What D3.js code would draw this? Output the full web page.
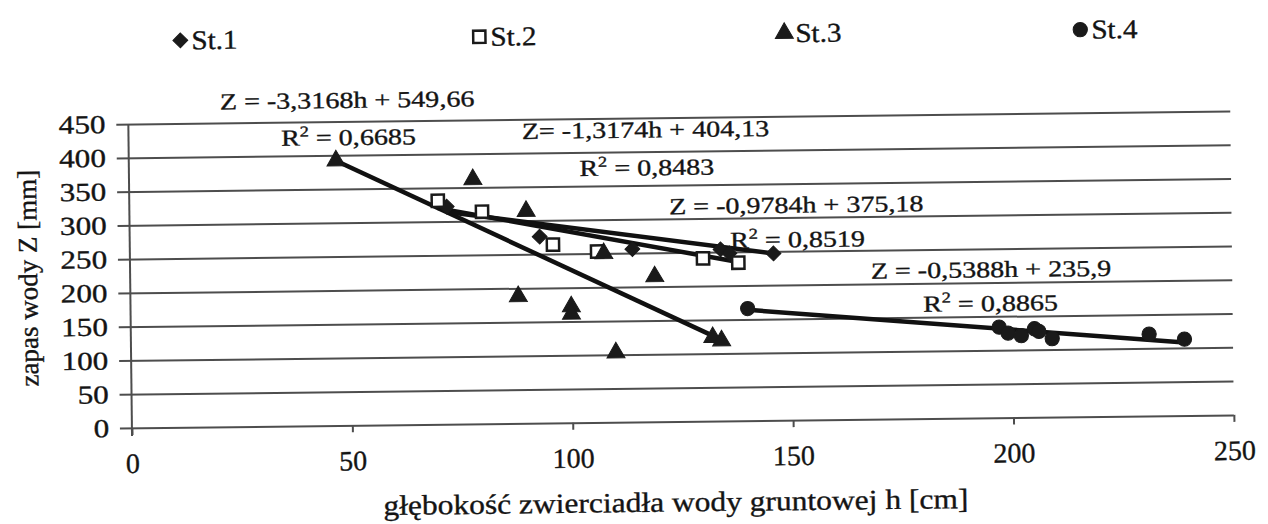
<!DOCTYPE html>
<html>
<head>
<meta charset="utf-8">
<script src="https://cdnjs.cloudflare.com/ajax/libs/d3/7.8.5/d3.min.js"></script>
<style>
  body { margin: 0; background: #fff; }
  svg { display: block; }
</style>
</head>
<body>
<svg id="chart" width="1268" height="524"></svg>
<script>

// data: [h cm, Z mm]
var seriesNames = [ 'St.1', 'St.2', 'St.3', 'St.4' ];

var st1 = [ [ 72, 322 ], [ 93, 276 ], [ 114, 256 ], [ 134, 254 ], [ 136, 248 ], [ 146, 247 ] ];
var st2 = [ [ 70, 331 ], [ 80, 314 ], [ 96, 264 ], [ 106, 253 ], [ 130, 241 ], [ 138, 234 ] ];
var st3 = [ [ 47, 392 ], [ 78, 362 ], [ 88, 188 ], [ 90, 314 ], [ 100, 172 ], [ 100, 161 ],
  [ 107.5, 250 ], [ 110, 103 ], [ 119, 215 ], [ 132, 124 ], [ 134, 119 ] ];
var st4 = [ [ 140, 166 ], [ 197, 134 ], [ 199, 125 ], [ 202, 121 ], [ 205, 131 ], [ 206, 127 ],
  [ 209, 116 ], [ 231, 121 ], [ 239, 113 ] ];

// trend lines as drawn (start / end)
var trend1 = [ [ 72, 314 ], [ 146, 247 ] ];
var trend2 = [ [ 70, 320 ], [ 138, 235 ] ];
var trend3 = [ [ 47, 392 ], [ 134, 120 ] ];
var trend4 = [ [ 140, 164 ], [ 239, 108 ] ];

var equations = [ 'Z = -3,3168h + 549,66', 'Z= -1,3174h + 404,13', 'Z = -0,9784h + 375,18', 'Z = -0,5388h + 235,9' ];
var rSquared = [ '0,6685', '0,8483', '0,8519', '0,8865' ];

var xTicks = [ 0, 50, 100, 150, 200, 250 ];
var yTicks = [ 0, 50, 100, 150, 200, 250, 300, 350, 400, 450 ];

var xTitle = 'głębokość zwierciadła wody gruntowej h [cm]';
var yTitle = 'zapas wody Z [mm]';

// where the equation / R2 labels sit, in data units (centre, baseline)
var eqAt = [ [ 49.7, 470 ], [ 117.3, 421 ], [ 151.3, 307 ], [ 195.3, 208 ] ];
var r2At = [ [ 49.9, 415 ], [ 117.5, 365 ], [ 151.5, 256 ], [ 195.1, 158 ] ];

var serif = "'Liberation Serif', 'Times New Roman', serif",
  ink = '#141414',
  gridColor = '#4d4d4d';

var svg = d3.select( '#chart' );

// the scanned original is turned a little, so is the whole drawing
var root = svg.append( 'g' )
  .attr( 'transform', 'rotate(-0.68,634,262)' );

var x = d3.scaleLinear()
  .domain( [ 0, 250 ] )
  .range( [ 130, 1232 ] );

var y = d3.scaleLinear()
  .domain( [ 0, 450 ] )
  .range( [ 422, 118 ] );

// the text in the original is stretched sideways
function setFont( sel, size, stretch ) {
  sel.style( 'font-family', serif )
    .style( 'font-size', size + 'px' )
    .style( 'fill', ink )
    .style( 'stroke', ink )
    .style( 'stroke-width', 0.35 );
  if ( stretch ) sel.attr( 'transform', function() {
    var t = d3.select( this ).attr( 'transform' ) || '';
    return t + ' scale(' + stretch + ',1)';
  } );
}

/* Grid + y ticks */

var grid = root.append( 'g' )
  .attr( 'transform', 'translate(118,0)' )
  .call( d3.axisLeft( y ).tickValues( yTicks ).tickSize( -( x( 250 ) - 118 ) ).tickPadding( 9 ) );

grid.select( '.domain' ).remove();
grid.selectAll( 'line' )
  .style( 'stroke', gridColor )
  .style( 'stroke-width', 2 );
grid.selectAll( 'text' ).call( setFont, 26, 1.2 );

root.append( 'line' )
  .attr( 'x1', x( 0 ) )
  .attr( 'x2', x( 0 ) )
  .attr( 'y1', y( 450 ) )
  .attr( 'y2', y( 0 ) + 8 )
  .style( 'stroke', gridColor )
  .style( 'stroke-width', 2 );

/* X axis */

var xAxis = root.append( 'g' )
  .attr( 'transform', 'translate(0,' + y( 0 ) + ')' )
  .call( d3.axisBottom( x ).tickValues( xTicks ).tickSize( 7 ) );

xAxis.select( '.domain' ).remove();
xAxis.selectAll( 'line' )
  .style( 'stroke', gridColor )
  .style( 'stroke-width', 2 );
xAxis.selectAll( 'text' )
  .attr( 'dy', null )
  .attr( 'y', 45 )
  .call( setFont, 28 );

root.append( 'text' )
  .attr( 'x', 673 )
  .attr( 'y', 512 )
  .attr( 'text-anchor', 'middle' )
  .attr( 'textLength', 585 )
  .attr( 'lengthAdjust', 'spacingAndGlyphs' )
  .text( xTitle )
  .call( setFont, 28 );

root.append( 'text' )
  .attr( 'transform', 'translate(37,271) rotate(-90)' )
  .attr( 'text-anchor', 'middle' )
  .text( yTitle )
  .call( setFont, 27 );

/* Trend lines */

var line = d3.line()
  .x( d => x( d[ 0 ] ) )
  .y( d => y( d[ 1 ] ) );

root.selectAll( '.trend' )
  .data( [ trend3, trend2, trend1, trend4 ] )
  .enter().append( 'path' )
    .attr( 'class', 'trend' )
    .attr( 'd', d => line( d ) )
    .style( 'fill', 'none' )
    .style( 'stroke', '#111' )
    .style( 'stroke-width', 4.5 );

/* Points */

// St.1 diamond = square turned by 45 degrees
var shapes = [ d3.symbolSquare, d3.symbolSquare, d3.symbolTriangle, d3.symbolCircle ];
var sizes = [ 110, 150, 140, 160 ];
var turns = [ 45, 0, 0, 0 ];
var allSeries = [ st1, st2, st3, st4 ];

function styleMarker( sel, i ) {
  sel.attr( 'd', d3.symbol().type( shapes[ i ] ).size( sizes[ i ] ) )
    .style( 'fill', i === 1 ? '#fff' : '#1a1a1a' )
    .style( 'stroke', '#1a1a1a' )
    .style( 'stroke-width', i === 1 ? 2.5 : 1 );
}

allSeries.forEach( ( s, i ) => {
  root.append( 'g' )
    .selectAll( 'path' )
    .data( s )
    .enter().append( 'path' )
      .attr( 'transform', d => 'translate(' + x( d[ 0 ] ) + ',' + y( d[ 1 ] ) + ') rotate(' + turns[ i ] + ')' )
      .call( styleMarker, i );
} );

/* Equations */

root.selectAll( '.eq-z' )
  .data( equations )
  .enter().append( 'text' )
    .attr( 'class', 'eq-z' )
    .attr( 'text-anchor', 'middle' )
    .attr( 'transform', ( d, i ) => 'translate(' + x( eqAt[ i ][ 0 ] ) + ',' + y( eqAt[ i ][ 1 ] ) + ')' )
    .text( d => d )
    .call( setFont, 23, 1.22 );

var r2 = root.selectAll( '.eq-r' )
  .data( rSquared )
  .enter().append( 'text' )
    .attr( 'class', 'eq-r' )
    .attr( 'text-anchor', 'middle' )
    .attr( 'transform', ( d, i ) => 'translate(' + x( r2At[ i ][ 0 ] ) + ',' + y( r2At[ i ][ 1 ] ) + ')' )
    .call( setFont, 23, 1.22 );

r2.append( 'tspan' ).text( 'R' );
r2.append( 'tspan' ).attr( 'dy', -9 ).style( 'font-size', '15px' ).text( '2' );
r2.append( 'tspan' ).attr( 'dy', 9 ).text( d => ' = ' + d );

/* Legend */

var legendX = [ 183, 482, 787, 1083 ];

var items = root.append( 'g' )
  .selectAll( 'g' )
  .data( seriesNames )
  .enter().append( 'g' )
    .attr( 'transform', ( d, i ) => 'translate(' + legendX[ i ] + ',35)' );

items.append( 'path' )
  .attr( 'transform', ( d, i ) => 'rotate(' + turns[ i ] + ')' )
  .each( function( d, i ) { d3.select( this ).call( styleMarker, i ); } );

items.append( 'text' )
  .attr( 'transform', 'translate(11,9)' )
  .text( d => d )
  .call( setFont, 27, 1.08 );

</script>
</body>
</html>
